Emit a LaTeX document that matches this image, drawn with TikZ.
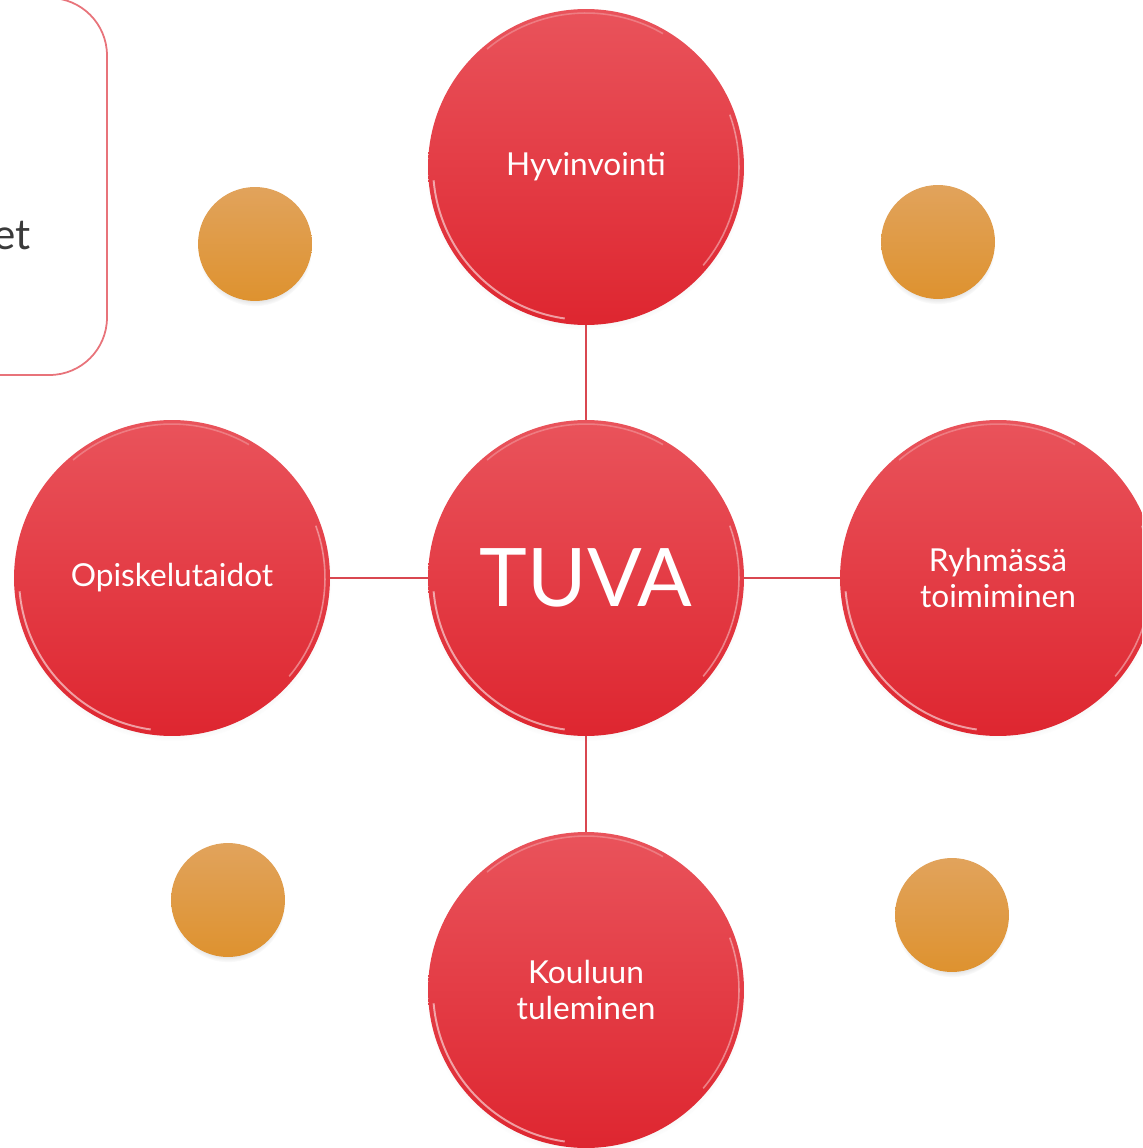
\documentclass[tikz,border=0pt]{standalone}
\usepackage{fontspec}
\setmainfont{Lato}
\usetikzlibrary{shadows}
\definecolor{ballTop}{HTML}{E9535B}
\definecolor{ballBot}{HTML}{DE2630}
\definecolor{dotTop}{HTML}{E1A35C}
\definecolor{dotBot}{HTML}{DE922F}
\definecolor{linkRed}{HTML}{D94750}
\definecolor{boxRed}{HTML}{E8737A}
\definecolor{txtDark}{HTML}{3A3A3A}
\tikzset{
  bigball/.style={circle, minimum size=6.32cm, inner sep=0pt, draw=none,
    top color=ballTop, bottom color=ballBot, text=white, align=center,
    font=\fontsize{18}{20}\selectfont,
    circular drop shadow={shadow xshift=0pt, shadow yshift=-2pt, opacity=.22, shadow scale=1.01},
    path picture={
      \draw[white, opacity=.55, line width=1.1pt]
        (path picture bounding box.center) ++(185:3.06cm)
        arc[start angle=185, end angle=262, radius=3.06cm];
      \draw[white, opacity=.4, line width=0.9pt]
        (path picture bounding box.center) ++(-40:3.06cm)
        arc[start angle=-40, end angle=20, radius=3.06cm];
      \draw[white, opacity=.25, line width=0.9pt]
        (path picture bounding box.center) ++(60:3.08cm)
        arc[start angle=60, end angle=130, radius=3.08cm];
    }},
  orangedot/.style={circle, minimum size=2.28cm, inner sep=0pt, draw=none,
    top color=dotTop, bottom color=dotBot,
    circular drop shadow={shadow xshift=0pt, shadow yshift=-3pt, opacity=.3, shadow scale=1.0}},
  link/.style={draw=linkRed, line width=0.9pt}
}
\begin{document}
\begin{tikzpicture}[x=0.02cm, y=-0.02cm]
\useasboundingbox (0,0) rectangle (1142,1148);
\clip (0,0) rectangle (1142,1148);
\fill[white] (0,0) rectangle (1142,1148);
% partial box at top left
\draw[boxRed, line width=1pt, rounded corners=1.15cm] (-300,-2) rectangle (107,375);
\node[anchor=base east, text=txtDark, font=\fontsize{24}{28}\selectfont, inner sep=0pt] (et) at (31,250) {et};
% connectors (drawn first, under the balls)
\coordinate (cTop) at (586,167);
\coordinate (cMid) at (586,578);
\coordinate (cLeft) at (172,578);
\coordinate (cRight) at (998,578);
\coordinate (cBot) at (586,990);
\draw[link] (cMid) -- (cTop);
\draw[link] (cMid) -- (cLeft);
\draw[link] (cMid) -- (cRight);
\draw[link] (cMid) -- (cBot);
% orange dots
\node[orangedot] (d1) at (255,244) {};
\node[orangedot] (d2) at (938,242) {};
\node[orangedot] (d3) at (228,900) {};
\node[orangedot] (d4) at (952,915) {};
% balls
\node[bigball] (hyv) at (cTop) {Hyvinvointi};
\node[bigball] (opi) at (cLeft) {Opiskelutaidot};
\node[bigball] (ryh) at (cRight) {Ryhmässä\\toimiminen};
\node[bigball] (kou) at (cBot) {Kouluun\\tuleminen};
\node[bigball, font=\fontsize{46}{52}\selectfont] (tuva) at (cMid) {TUVA};
\end{tikzpicture}
\end{document}
